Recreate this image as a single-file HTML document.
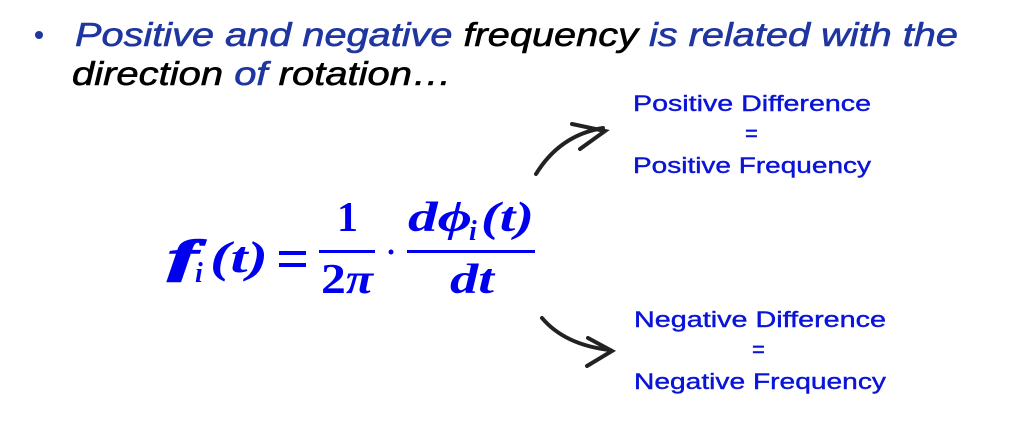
<!DOCTYPE html>
<html><head><meta charset="utf-8"><style>html,body{margin:0;padding:0;background:#fff;width:1024px;height:439px;overflow:hidden}</style></head>
<body>
<svg width="1024" height="439" viewBox="0 0 1024 439" xmlns="http://www.w3.org/2000/svg" font-family="Liberation Sans, sans-serif">
<circle cx="39" cy="35" r="4" fill="#1f35a0"/>
<text x="75" y="46" font-size="33" font-style="italic" stroke-width="0.6" textLength="883" lengthAdjust="spacingAndGlyphs"><tspan fill="#1f35a0" stroke="#1f35a0">Positive and negative </tspan><tspan fill="#000" stroke="#000">frequency </tspan><tspan fill="#1f35a0" stroke="#1f35a0">is related with the</tspan></text>
<text x="72" y="85" font-size="33" font-style="italic" stroke-width="0.6" textLength="380" lengthAdjust="spacingAndGlyphs"><tspan fill="#000" stroke="#000">direction </tspan><tspan fill="#1f35a0" stroke="#1f35a0">of </tspan><tspan fill="#000" stroke="#000">rotation…</tspan></text>

<g fill="#0000ee" font-family="Liberation Serif, serif" font-weight="bold" font-style="italic">
<text x="168" y="272" font-size="46" stroke="#0000ee" stroke-width="1.5" textLength="30" lengthAdjust="spacingAndGlyphs">f</text>
<text x="195" y="282" font-size="28">i</text>
<text x="210" y="272" font-size="44" textLength="58" lengthAdjust="spacingAndGlyphs">(t)</text>
<rect x="279" y="251" width="27" height="4"/>
<rect x="279" y="263" width="27" height="4"/>
<rect x="319" y="250" width="56" height="3"/>
<text x="337" y="231" font-size="42" font-style="normal">1</text>
<text x="321" y="293" font-size="42" textLength="52" lengthAdjust="spacingAndGlyphs"><tspan font-style="normal">2</tspan>π</text>
<circle cx="391" cy="252" r="2.5"/>
<rect x="407" y="250" width="128" height="3"/>
<text x="408" y="231" font-size="42" textLength="64" lengthAdjust="spacingAndGlyphs">dϕ</text>
<text x="469" y="240" font-size="28">i</text>
<text x="481" y="231" font-size="42" textLength="53" lengthAdjust="spacingAndGlyphs">(t)</text>
<text x="450" y="293" font-size="42" textLength="44" lengthAdjust="spacingAndGlyphs">dt</text>
</g>

<g stroke="#222" stroke-width="4" fill="none" stroke-linecap="round">
<path d="M536 174 Q560 135 603 128"/>
<path d="M572 124 L605 131 L580 149"/>
<path d="M542 318 Q565 345 610 350"/>
<path d="M588 338 L612 351 L587 366"/>
</g>

<g fill="#0a14d8" stroke="#0a14d8" stroke-width="0.4" font-size="22" font-family="Liberation Sans, sans-serif">
<text x="633" y="111" textLength="238" lengthAdjust="spacingAndGlyphs">Positive Difference</text>
<text x="745" y="141">=</text>
<text x="633" y="173" textLength="238" lengthAdjust="spacingAndGlyphs">Positive Frequency</text>
<text x="634" y="327" textLength="252" lengthAdjust="spacingAndGlyphs">Negative Difference</text>
<text x="752" y="357">=</text>
<text x="634" y="389" textLength="252" lengthAdjust="spacingAndGlyphs">Negative Frequency</text>
</g>
</svg>
</body></html>
